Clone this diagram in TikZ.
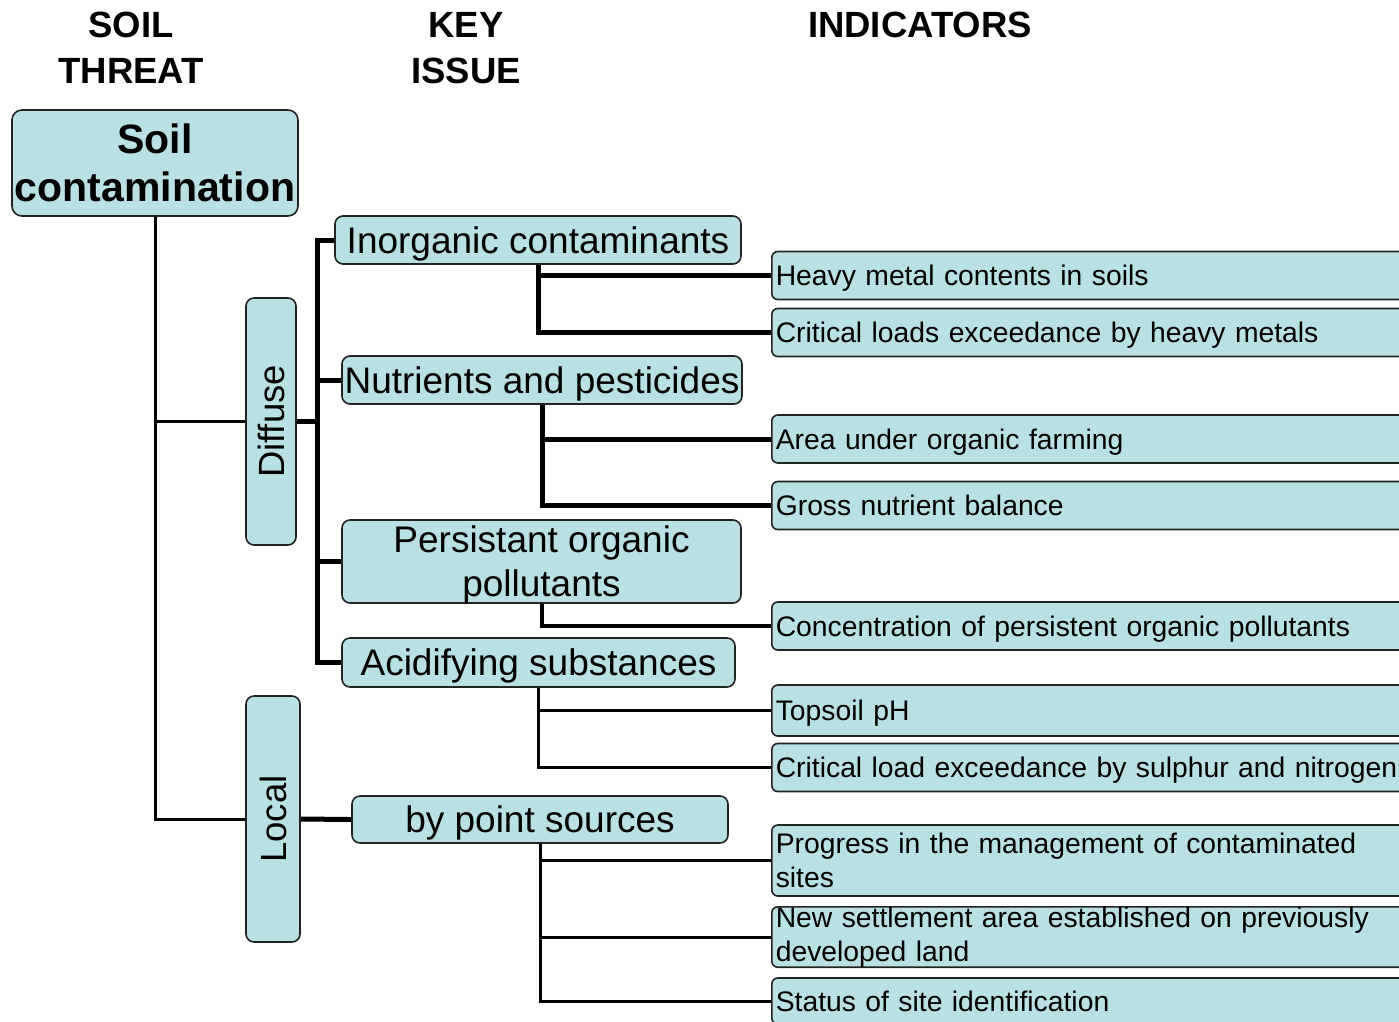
\documentclass[tikz,border=0pt]{standalone}
\usepackage{fontspec}
\setmainfont{Liberation Sans}
\usepackage{graphicx}
\usepackage{tikz}
\usetikzlibrary{positioning,calc}
\definecolor{SoilCyan}{RGB}{185,224,226}
\definecolor{EdgeGray}{RGB}{35,35,35}
\tikzset{
	head/.style={font=\bfseries\fontsize{36.5}{46}\selectfont,align=center,inner sep=0pt},
	threat/.style={draw=EdgeGray,fill=SoilCyan,line width=1.6pt,rounded corners=10pt,inner sep=0pt,
		align=center,font=\bfseries\fontsize{41}{48}\selectfont},
	reach/.style={draw=EdgeGray,fill=SoilCyan,line width=1.6pt,rounded corners=8pt,inner sep=0pt,
		font=\fontsize{36.5}{44}\selectfont},
	issue/.style={draw=EdgeGray,fill=SoilCyan,line width=1.6pt,rounded corners=8pt,inner sep=0pt,
		align=center,text depth=0pt,font=\fontsize{37}{44}\selectfont},
	ind/.style={draw=EdgeGray,fill=SoilCyan,line width=1.6pt,rounded corners=6pt,anchor=west,
		inner xsep=4pt,inner ysep=0pt,text width=640pt,align=left,minimum height=48pt,
		text depth=0pt,font=\fontsize{28.3}{34}\selectfont},
	twoline/.style={text depth={}},
	link/.style={draw=black,line width=3pt},
	trunk/.style={draw=black,line width=5pt},
}

\begin{document}
\begin{tikzpicture}[x=1pt,y=-1pt]
	\useasboundingbox (0,0) rectangle (1399,1021);
	\clip (0,0) rectangle (1399,1021);
	\node[head] (hthreat) at (131,48) {SOIL\\THREAT};
	\node[head] (hissue) at (466,48) {KEY\\ISSUE};
	\node[head] (hind) at (920,25) {INDICATORS};

	\node[threat,minimum width=286pt,minimum height=106pt] (soil) at (155,163) {Soil\\contamination};
	\node[reach,minimum width=50pt,minimum height=247pt] (diffuse) at (271,421.5) {\rotatebox{90}{Diffuse}};
	\node[reach,minimum width=54pt,minimum height=246pt] (local) at (273,819) {\rotatebox{90}{Local}};

	\node[issue,minimum width=406pt,minimum height=48pt] (inorg) at (538,240) {Inorganic contaminants};
	\node[issue,minimum width=400pt,minimum height=48pt] (nutr) at (542,380) {Nutrients and pesticides};
	\node[issue,minimum width=399pt,minimum height=83pt] (pop) at (541.5,561.5) {Persistant organic\\pollutants};
	\node[issue,minimum width=393pt,minimum height=49pt] (acid) at (538.5,662.5) {Acidifying substances};
	\node[issue,minimum width=376pt,minimum height=47pt] (point) at (540,819.5) {by point sources};

	\node[ind] (heavy) at (771,275.5) {Heavy metal contents in soils};
	\node[ind] (critmetal) at (771,332.5) {Critical loads exceedance by heavy metals};
	\node[ind] (organic) at (771,439) {Area under organic farming};
	\node[ind] (gross) at (771,505.5) {Gross nutrient balance};
	\node[ind] (conc) at (771,626) {Concentration of persistent organic pollutants};
	\node[ind,minimum height=51pt] (ph) at (771,710.5) {Topsoil pH};
	\node[ind] (critsn) at (771,767.5) {Critical load exceedance by sulphur and nitrogen};
	\node[ind,twoline,minimum height=71pt] (progress) at (771,860.5) {Progress in the management of contaminated\\sites};
	\node[ind,twoline,minimum height=60pt] (settle) at (771,937) {New settlement area established on previously\\developed land};
	\node[ind,minimum height=46pt] (status) at (771,1001) {Status of site identification};

	\draw[link] (soil.south) |- (diffuse.west);
	\draw[link] (soil.south) |- (local.west);
	\draw[trunk] (diffuse.east) -- ++(21,0) |- (inorg.west);
	\draw[trunk] (diffuse.east) -- ++(21,0) |- (nutr.west);
	\draw[trunk] (diffuse.east) -- ++(21,0) |- (pop.west);
	\draw[trunk] (diffuse.east) -- ++(21,0) |- (acid.west);
	\draw[trunk] (local.east) -- (point.west);
	\draw[trunk] (inorg.south) |- (heavy.west);
	\draw[trunk] (inorg.south) |- (critmetal.west);
	\draw[trunk] (nutr.south) |- (organic.west);
	\draw[trunk] (nutr.south) |- (gross.west);
	\draw[link,line width=4pt] (pop.south) |- (conc.west);
	\draw[link] (acid.south) |- (ph.west);
	\draw[link] (acid.south) |- (critsn.west);
	\draw[link] (point.south) |- (progress.west);
	\draw[link] (point.south) |- (settle.west);
	\draw[link] (point.south) |- (status.west);
\end{tikzpicture}
\end{document}
